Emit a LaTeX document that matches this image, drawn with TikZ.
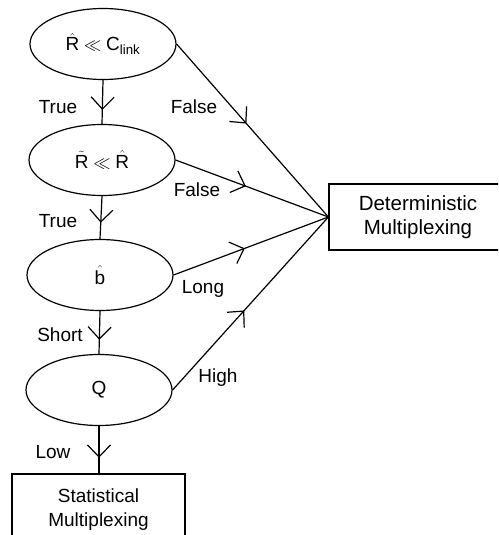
\documentclass[tikz,border=0pt]{standalone}
\usepackage{fontspec}
\setmainfont{Liberation Sans}
\setsansfont{Liberation Sans}
\usetikzlibrary{shapes.geometric,arrows.meta,decorations.markings}
\tikzset{
  testnode/.style={ellipse,draw,line width=1.2pt,minimum width=146pt,minimum height=71pt,inner sep=0pt,font=\fontsize{19}{23}\selectfont},
  outbox/.style={rectangle,draw,line width=1.2pt,align=center,inner sep=0pt,font=\fontsize{19}{24}\selectfont},
  lbl/.style={anchor=base,inner sep=0pt,font=\fontsize{19}{23}\selectfont},
  conn/.style={line width=1.2pt,decoration={markings,mark=at position #1 with {\arrow{Straight Barb[length=12pt,width=23pt]}}},postaction={decorate}},
}
\begin{document}
\begin{tikzpicture}[x=1pt,y=-1pt]
\useasboundingbox (0,0) rectangle (498,535);
\clip (0,0) rectangle (498,535);
\node[testnode] (e1) at (103,44) {$\hat{\mathsf{R}} \ll \mathsf{C}_{\mathsf{link}}$};
\node[testnode] (e2) at (102,160) {$\tilde{\mathsf{R}} \ll \hat{\mathsf{R}}$};
\node[testnode] (e3) at (100,275) {$\hat{\mathsf{b}}$};
\node[testnode] (e4) at (99,390) {$\mathsf{Q}$};
\node[outbox,minimum width=178pt,minimum height=66pt,font=\fontsize{20.5}{24}\selectfont] (det) at (418,217) {Deterministic\\Multiplexing};
\node[outbox,minimum width=173pt,minimum height=72pt] (stat) at (98.5,510) {Statistical\\Multiplexing};
\draw[conn=0.68] (e1.south) -- (e2.north);
\draw[conn=0.62] (e2.south) -- (e3.north);
\draw[conn=0.67] (e3.south) -- (e4.north);
\draw[conn=0.67] (e4.south) -- (e4.south |- stat.north);
\draw[conn=0.46] (e1.east) -- (det.west);
\draw[conn=0.46] (e2.east) -- (det.west);
\draw[conn=0.46] (e3.east) -- (det.west);
\draw[conn=0.46] (e4.east) -- (det.west);
\node[lbl] (l1) at (58,113) {True};
\node[lbl] (l2) at (194,113) {False};
\node[lbl] (l3) at (197,196) {False};
\node[lbl] (l4) at (58,227) {True};
\node[lbl] (l5) at (203,293) {Long};
\node[lbl] (l6) at (60,341) {Short};
\node[lbl] (l7) at (218,382) {High};
\node[lbl] (l8) at (53,458) {Low};
\end{tikzpicture}
\end{document}
